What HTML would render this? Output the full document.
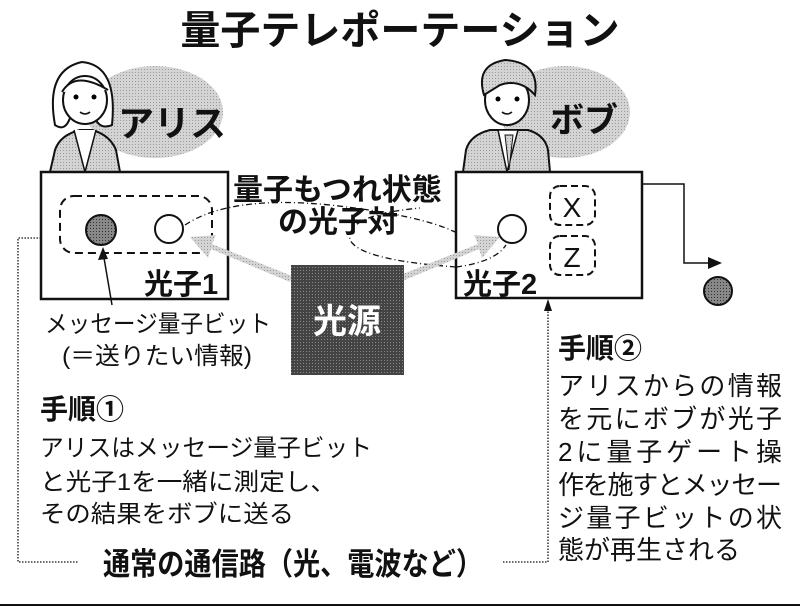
<!DOCTYPE html>
<html><head><meta charset="utf-8"><style>
html,body{margin:0;padding:0;background:#fff;}
svg{display:block;}
text{font-family:"Liberation Sans","Noto Sans CJK JP",sans-serif;fill:#111;}
</style></head><body>
<svg width="800" height="608" viewBox="0 0 800 608" xmlns="http://www.w3.org/2000/svg">
<defs>
<pattern id="g" width="3" height="3" patternUnits="userSpaceOnUse"><rect width="3" height="3" fill="#d4d4d4"/><rect width="1" height="1" fill="#999"/></pattern>
<pattern id="d" width="3" height="3" patternUnits="userSpaceOnUse"><rect width="3" height="3" fill="#444"/><rect width="1" height="1" fill="#888"/></pattern>
<pattern id="m" width="3" height="3" patternUnits="userSpaceOnUse"><rect width="3" height="3" fill="#888"/><rect width="1" height="1" fill="#333"/></pattern>
</defs>
<text x="400" y="44" font-size="40" font-weight="bold" text-anchor="middle">量子テレポーテーション</text>

<!-- Alice -->
<ellipse cx="155" cy="112" rx="68" ry="46" fill="url(#g)"/>
<path d="M50 172 L55 150 Q60 135 80 130 L92 130 Q110 135 116 150 L120 172 Z" fill="url(#g)" stroke="#111" stroke-width="2"/>
<path d="M74 130 L85 172 L96 130" fill="#fff" stroke="#111" stroke-width="1.5"/>
<path d="M55 125 Q45 70 82 62 Q118 65 112 125 Q100 130 95 118 L70 118 Q65 132 55 125 Z" fill="#fff" stroke="#111" stroke-width="2"/>
<ellipse cx="85" cy="100" rx="22" ry="24" fill="#fff" stroke="#111" stroke-width="2"/>
<path d="M62 92 Q75 70 108 90" fill="#fff" stroke="#111" stroke-width="2"/>
<circle cx="76" cy="97" r="2.5"/><circle cx="94" cy="97" r="2.5"/>
<path d="M80 112 Q85 116 90 112" fill="none" stroke="#111" stroke-width="1.5"/>
<text x="118" y="136" font-size="36" font-weight="bold">アリス</text>

<!-- Bob -->
<ellipse cx="565" cy="112" rx="65" ry="46" fill="url(#g)"/>
<path d="M463 172 L466 150 Q470 135 490 130 L528 130 Q545 135 548 150 L550 172 Z" fill="url(#g)" stroke="#111" stroke-width="2"/>
<path d="M498 130 L507 172 L518 130 Z" fill="#fff" stroke="#111" stroke-width="1.5"/>
<path d="M505 135 L509 170 L513 135 Z" fill="url(#g)" stroke="#111" stroke-width="1"/>
<ellipse cx="507" cy="100" rx="22" ry="25" fill="#fff" stroke="#111" stroke-width="2"/>
<path d="M484 95 Q475 65 505 60 Q540 62 535 95 Q520 78 500 85 Z" fill="url(#g)" stroke="#111" stroke-width="2"/>
<circle cx="498" cy="99" r="2.5"/><circle cx="517" cy="99" r="2.5"/>
<path d="M502 112 Q507 116 512 112" fill="none" stroke="#111" stroke-width="1.5"/>
<text x="550" y="132" font-size="34" font-weight="bold">ボブ</text>

<!-- Alice box -->
<rect x="41" y="172" width="187" height="127" fill="#fff" stroke="#111" stroke-width="2.5"/>
<rect x="60" y="196" width="152" height="57" rx="14" fill="none" stroke="#111" stroke-width="2" stroke-dasharray="8,5"/>
<circle cx="101" cy="230" r="15" fill="url(#m)" stroke="#111" stroke-width="2"/>
<circle cx="169" cy="229" r="14" fill="#fff" stroke="#111" stroke-width="2"/>
<text x="144" y="294" font-size="29" font-weight="bold">光子1</text>

<!-- Bob box -->
<rect x="456" y="172" width="186" height="126" fill="#fff" stroke="#111" stroke-width="2.5"/>
<circle cx="512" cy="229" r="14" fill="#fff" stroke="#111" stroke-width="2"/>
<rect x="550" y="186" width="45" height="39" rx="10" fill="none" stroke="#111" stroke-width="2" stroke-dasharray="7,4"/>
<rect x="550" y="236" width="45" height="39" rx="10" fill="none" stroke="#111" stroke-width="2" stroke-dasharray="7,4"/>
<text x="572" y="217" font-size="28" text-anchor="middle">X</text>
<text x="572" y="267" font-size="28" text-anchor="middle">Z</text>
<text x="463" y="294" font-size="29" font-weight="bold">光子2</text>

<!-- entangled ellipse (dash-dot) -->
<path d="M185 225 Q230 195 330 205 Q420 215 455 232 M456 267 Q360 260 350 240 Q345 215 420 208" fill="none" stroke="#111" stroke-width="1.3" stroke-dasharray="6,3,1,3"/>
<path d="M456 267 Q495 262 506 245" fill="none" stroke="#111" stroke-width="1.3" stroke-dasharray="6,3,1,3"/>

<text x="233" y="200" font-size="30" font-weight="bold">量子もつれ状態</text>
<text x="278" y="232" font-size="30" font-weight="bold">の光子対</text>

<!-- gray arrows -->
<path d="M292 276 L212 244 L216 235 L190 237 L208 258 L211 249 L290 282 Z" fill="url(#g)"/>
<path d="M398 276 L478 244 L474 235 L500 237 L482 258 L479 249 L400 282 Z" fill="url(#g)"/>

<!-- light source -->
<rect x="291" y="265" width="113" height="110" fill="url(#d)"/>
<text x="347" y="333" font-size="34" font-weight="bold" text-anchor="middle" style="fill:#fff">光源</text>

<!-- message arrow -->
<line x1="112" y1="305" x2="103" y2="252" stroke="#111" stroke-width="1.5"/>
<path d="M103 247 L98 260 L108 259 Z" fill="#111"/>
<text x="45" y="332" font-size="24" textLength="226" lengthAdjust="spacingAndGlyphs">メッセージ量子ビット</text>
<text x="62" y="364" font-size="24" textLength="190" lengthAdjust="spacingAndGlyphs">(＝送りたい情報)</text>

<!-- Bob output -->
<path d="M642 184 L684 184 L684 263 L710 263" fill="none" stroke="#111" stroke-width="1.5"/>
<path d="M722 263 L708 257 L708 269 Z" fill="#111"/>
<circle cx="718" cy="291" r="14" fill="url(#m)" stroke="#111" stroke-width="2"/>

<!-- dotted channel -->
<path d="M41 238 L18 238 L18 562 L78 562 M503 562 L548 562 L548 305" fill="none" stroke="#111" stroke-width="1.3" stroke-dasharray="1.5,1.5"/>
<path d="M548 299 L544 311 L552 311 Z" fill="#111"/>
<text x="103" y="575" font-size="31" font-weight="bold" textLength="380" lengthAdjust="spacingAndGlyphs">通常の通信路（光、電波など）</text>

<!-- step 1 -->
<text x="40" y="419" font-size="28" font-weight="bold">手順①</text>
<text x="40" y="456" font-size="24" textLength="332" lengthAdjust="spacingAndGlyphs">アリスはメッセージ量子ビット</text>
<text x="40" y="490" font-size="24" textLength="296" lengthAdjust="spacingAndGlyphs">と光子1を一緒に測定し、</text>
<text x="40" y="522" font-size="24" textLength="254" lengthAdjust="spacingAndGlyphs">その結果をボブに送る</text>

<!-- step 2 -->
<text x="558" y="358" font-size="28" font-weight="bold">手順②</text>
<g font-size="26">
<text x="558" y="395" textLength="224" lengthAdjust="spacing">アリスからの情報</text>
<text x="558" y="428" textLength="224" lengthAdjust="spacing">を元にボブが光子</text>
<text x="558" y="461" textLength="224" lengthAdjust="spacing">2に量子ゲート操</text>
<text x="558" y="494" textLength="224" lengthAdjust="spacing">作を施すとメッセー</text>
<text x="558" y="527" textLength="224" lengthAdjust="spacing">ジ量子ビットの状</text>
<text x="558" y="559">態が再生される</text>
</g>

<line x1="0" y1="605" x2="800" y2="605" stroke="#111" stroke-width="2"/>
</svg>
</body></html>
